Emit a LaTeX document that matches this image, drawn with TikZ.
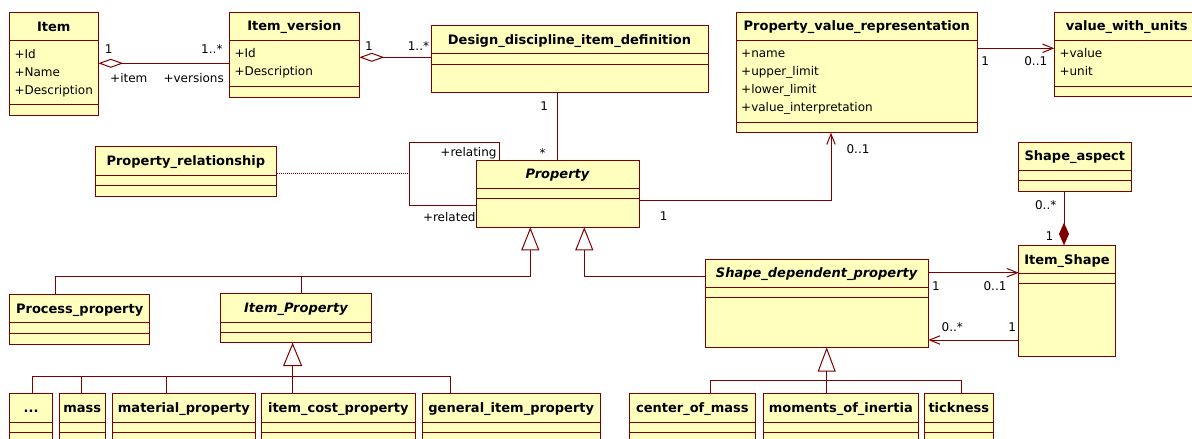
\documentclass[tikz,border=0pt]{standalone}
\usepackage{fontspec}
\setmainfont{DejaVu Sans}
\usetikzlibrary{arrows.meta}
\definecolor{umlline}{RGB}{128,0,0}
\definecolor{umlfill}{RGB}{255,255,190}
\tikzset{
  clsbox/.style={draw=umlline, fill=umlfill, line width=1pt, inner sep=0pt, outer sep=0pt, rectangle},
  clsline/.style={draw=umlline, line width=1pt},
  ttl/.style={anchor=base, inner sep=0pt, font=\fontsize{13}{15}\selectfont\bfseries},
  attr/.style={anchor=base west, inner sep=0pt, font=\fontsize{12}{14}\selectfont},
  lbl/.style={anchor=base, inner sep=0pt, font=\fontsize{12}{14}\selectfont},
  conn/.style={draw=umlline, line width=1pt},
  gen/.style={conn, -{Triangle[open,length=23pt,width=18pt]}},
  navarrow/.style={conn, -{Straight Barb[length=10.5pt,width=8.5pt]}},
  aggr/.style={conn, {Diamond[open,length=25pt,width=9pt]}-},
  compo/.style={conn, -{Diamond[length=22.6pt,width=10pt]}}
}
% name, x1, y1, x2, y2, sep1, sep2, title
\newcommand{\umlclass}[8]{%
  \node[clsbox, anchor=north west, minimum width={#4-#2}, minimum height={#5-#3}] (#1) at (#2,#3) {};
  \draw[clsline] (#2,#6) -- (#4,#6) (#2,#7) -- (#4,#7);
  \node[ttl] (#1-title) at ({(#2+#4)/2},{(#3+#6)/2+4.7}) {#8};
}
% x1, sep1, list
\newcommand{\umlattrs}[3]{%
  \foreach \a [count=\i from 0] in {#3} {\node[attr] at (#1+5,#2+17.3+18*\i) {\a};}
}
\begin{document}
\begin{tikzpicture}[x=1pt,y=-1pt]
\path[use as bounding box, fill=white] (0,0) rectangle (1192,439);
\clip (0,0) rectangle (1192,439);

% classes
\umlclass{item}{9.3}{12}{98.3}{115}{40.7}{104.3}{Item}
\umlattrs{9.3}{40.7}{+Id,+Name,+Description}
\umlclass{iv}{229.3}{12}{359.3}{97}{40.3}{86.7}{Item\_version}
\umlattrs{229.3}{40.3}{+Id,+Description}
\umlclass{ddid}{431}{25}{708}{92.3}{53.7}{64}{Design\_discipline\_item\_definition}
\umlclass{pvr}{736}{12}{977.7}{132.7}{40.3}{122.3}{Property\_value\_representation}
\umlattrs{736}{40.3}{+name,+upper\_limit,+lower\_limit,+value\_interpretation}
\umlclass{vwu}{1054.3}{12}{1199}{96.7}{40.3}{86.3}{value\_with\_units}
\umlattrs{1054.3}{40.3}{+value,+unit}
\umlclass{prel}{95}{146}{276.7}{196}{175}{185.3}{Property\_relationship}
\umlclass{prop}{476}{160}{639}{227.3}{188.3}{198.7}{\itshape Property}
\umlclass{shasp}{1018.7}{142}{1131}{191.3}{170.3}{180.7}{Shape\_aspect}
\umlclass{ishape}{1018.7}{245.3}{1115.3}{356}{273.7}{283.7}{Item\_Shape}
\umlclass{sdp}{705}{259}{928.3}{347.3}{287.3}{297.3}{\itshape Shape\_dependent\_property}
\umlclass{procp}{9.9}{294.3}{149.5}{344}{322.3}{333}{Process\_property}
\umlclass{itemp}{220.2}{293.3}{371.7}{342.7}{322}{332.3}{\itshape Item\_Property}
\umlclass{dots}{9.9}{393.3}{52.2}{460}{422.3}{432.7}{...}
\umlclass{mass}{59.3}{393.3}{105.2}{460}{422.3}{432.7}{mass}
\umlclass{matp}{112.7}{393.3}{255}{460}{422.3}{432.7}{material\_property}
\umlclass{icost}{261}{393.3}{415.6}{460}{422.3}{432.7}{item\_cost\_property}
\umlclass{genp}{422.3}{393.3}{600.2}{460}{422.3}{432.7}{general\_item\_property}
\umlclass{com}{629}{393.3}{755.7}{460}{422}{432.3}{center\_of\_mass}
\umlclass{moi}{763.3}{393.3}{918.3}{460}{422}{432.3}{moments\_of\_inertia}
\umlclass{tick}{924.3}{393.3}{993.3}{460}{422}{432.3}{tickness}

% Item -- Item_version
\draw[aggr] (item.east |- 0,63.3) -- (iv.west |- 0,63.3);
\node[lbl] (l1) at (108.7,53.3) {1};
\node[lbl, anchor=base east] (l2) at (222.7,53.3) {1..*};
\node[lbl, anchor=base west] (l3) at (110,82.7) {+item};
\node[lbl, anchor=base east] (l4) at (224,82.7) {+versions};

% Item_version -- DDID
\draw[aggr] (iv.east |- 0,57.3) -- (ddid.west |- 0,57.3);
\node[lbl] (l5) at (369,50) {1};
\node[lbl, anchor=base east] (l6) at (429.3,50) {1..*};

% DDID -- Property
\draw[conn] (ddid.south -| 557.5,0) -- (prop.north -| 557.5,0);
\node[lbl] (l7) at (544.3,110) {1};
\node[lbl] (l8) at (542.7,157.3) {*};

% PVR -> value_with_units
\draw[navarrow] (pvr.east |- 0,48.3) -- (vwu.west |- 0,48.3);
\node[lbl] (l9) at (985.3,65.7) {1};
\node[lbl] (l10) at (1035.8,65.7) {0..1};

% Property -> PVR
\draw[navarrow] (prop.east |- 0,200.7) -| (pvr.south -| 831,0);
\node[lbl] (l11) at (663.8,220) {1};
\node[lbl] (l12) at (858,153.3) {0..1};

% self association
\coordinate (selfmid) at (409.3,173.3);
\draw[conn] (prop.north -| 499,0) |- (409.3,142.7) |- (prop.west |- 0,205.3);
\node[lbl, anchor=base east] (l13) at (496.7,156.7) {+relating};
\node[lbl, anchor=base east] (l14) at (475.7,221.7) {+related};
\draw[conn, densely dotted] (prel.east |- 0,173.3) -- (selfmid);

% generalizations to Property
\draw[gen] (procp.north -| 55,0) |- (530.3,276.7) -- (prop.south -| 530.3,0);
\draw[conn] (itemp.north -| 301.7,0) -- (301.7,276.7);
\draw[gen] (sdp.west |- 0,276.7) -| (prop.south -| 584.3,0);

% Item_Property children
\draw[conn, -{Triangle[open,length=23.3pt,width=19pt]}] (icost.north -| 292.6,0) -- (itemp.south -| 292.6,0);
\draw[conn] (dots.north -| 32.8,0) -- (32.8,376) -- (450,376) -- (genp.north -| 450,0);
\draw[conn] (mass.north -| 81.9,0) -- (81.9,376);
\draw[conn] (matp.north -| 166.9,0) -- (166.9,376);

% Shape_dependent_property children
\draw[conn, -{Triangle[open,length=24.4pt,width=18pt]}] (moi.north -| 826.7,0) -- (sdp.south -| 826.7,0);
\draw[conn] (com.north -| 710,0) -- (710,380.7) -- (961,380.7) -- (tick.north -| 961,0);

% SDP <-> Item_Shape
\draw[navarrow] (sdp.east |- 0,272.7) -- (ishape.west |- 0,272.7);
\node[lbl] (l15) at (936,290) {1};
\node[lbl] (l16) at (995,290) {0..1};
\draw[navarrow] (ishape.west |- 0,340) -- (sdp.east |- 0,340);
\node[lbl] (l17) at (952.3,331.7) {0..*};
\node[lbl] (l18) at (1012.3,331.7) {1};

% Shape_aspect -- Item_Shape
\draw[compo] (shasp.south -| 1064,0) -- (ishape.north -| 1064,0);
\node[lbl] (l19) at (1045.7,209) {0..*};
\node[lbl] (l20) at (1049.5,240.7) {1};
\end{tikzpicture}
\end{document}
